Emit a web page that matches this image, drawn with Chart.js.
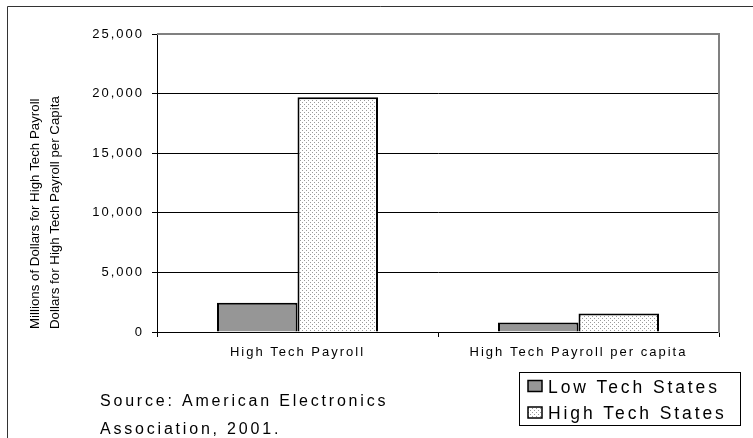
<!DOCTYPE html>
<html>
<head>
<meta charset="utf-8">
<script src="https://cdn.jsdelivr.net/npm/chart.js@4/dist/chart.umd.min.js"></script>
<style>
  html, body { margin: 0; padding: 0; background: #fff; }
  #wrap { width: 753px; height: 438px; }
</style>
</head>
<body>
<div id="wrap"><canvas id="c" width="753" height="438"></canvas></div>
<script>
// Categories and series values (millions of dollars / dollars per capita)
const categories = ['High Tech Payroll', 'High Tech Payroll per capita'];
const lowTechStates = [2450, 800];
const highTechStates = [19700, 1550];
const seriesNames = ['Low Tech States', 'High Tech States'];
const yTicks = [0, 5000, 10000, 15000, 20000, 25000];
const yTitleLines = ['Millions of Dollars for High Tech Payroll', 'Dollars for High Tech Payroll per Capita'];
const sourceLines = ['Source: American Electronics', 'Association, 2001.'];

const FONT = "'Liberation Sans', Arial, sans-serif";
const canvas = document.getElementById('c');
const ctx = canvas.getContext('2d');

// Fine stippled fill for the high tech bars
function dotPattern() {
  const p = document.createElement('canvas');
  p.width = 4; p.height = 4;
  const g = p.getContext('2d');
  g.fillStyle = '#ffffff';
  g.fillRect(0, 0, 4, 4);
  g.fillStyle = '#9a9a9a';
  g.fillRect(0, 0, 1, 1);
  g.fillRect(2, 2, 1, 1);
  return ctx.createPattern(p, 'repeat');
}
const stipple = dotPattern();
const lowFill = '#969696';

// Wide letter spacing for the axis labels
const spacing = {
  id: 'spacing',
  beforeDraw(chart) { chart.ctx.letterSpacing = '2px'; },
  afterDraw(chart) { chart.ctx.letterSpacing = '0px'; }
};

// Frame, plot border, axis title, source note and boxed legend
const decorations = {
  id: 'decorations',
  afterDraw(chart) {
    const c = chart.ctx;
    const a = chart.chartArea;
    c.save();

    // outer frame
    c.strokeStyle = '#333';
    c.lineWidth = 1;
    c.beginPath();
    c.moveTo(7.5, 438); c.lineTo(7.5, 6.5); c.lineTo(753, 6.5);
    c.stroke();

    // plot area border (top and right)
    c.strokeStyle = '#808080';
    c.lineWidth = 2;
    c.beginPath();
    c.moveTo(a.left, a.top); c.lineTo(a.right, a.top); c.lineTo(a.right, a.bottom + 1);
    c.stroke();

    // rotated two-line axis title
    c.fillStyle = '#000';
    c.font = '13.3px ' + FONT;
    c.letterSpacing = '0px';
    c.textAlign = 'left';
    c.textBaseline = 'middle';
    yTitleLines.forEach((t, i) => {
      c.save();
      c.translate(35 + i * 20, 329);
      c.rotate(-Math.PI / 2);
      c.fillText(t, 0, 0);
      c.restore();
    });

    // source note
    c.font = '16px ' + FONT;
    c.letterSpacing = '2.8px';
    c.textBaseline = 'alphabetic';
    c.fillText(sourceLines[0], 100, 406);
    c.fillText(sourceLines[1], 100, 434);

    // legend
    c.strokeStyle = '#000';
    c.lineWidth = 1;
    c.strokeRect(519.5, 372.5, 221, 53);
    const fills = [lowFill, stipple];
    const baselines = [392.5, 419];
    seriesNames.forEach((name, i) => {
      const y = baselines[i];
      c.fillStyle = fills[i];
      c.fillRect(528, y - 12, 14, 11);
      c.strokeStyle = '#000';
      c.lineWidth = 1.5;
      c.strokeRect(528, y - 12, 14, 11);
      c.fillStyle = '#000';
      c.font = '17.5px ' + FONT;
      c.letterSpacing = '2.9px';
      c.fillText(name, 548, y);
    });

    c.restore();
  }
};

new Chart(canvas, {
  type: 'bar',
  data: {
    labels: categories,
    datasets: [
      { label: seriesNames[0], data: lowTechStates, backgroundColor: lowFill, borderColor: '#000', borderWidth: 2 },
      { label: seriesNames[1], data: highTechStates, backgroundColor: stipple, borderColor: '#000', borderWidth: 2 }
    ]
  },
  options: {
    responsive: false,
    animation: false,
    events: [],
    layout: { padding: { top: 34, right: 34, left: 0, bottom: 0 } },
    datasets: { bar: { categoryPercentage: 0.573, barPercentage: 1 } },
    plugins: { legend: { display: false }, tooltip: { enabled: false } },
    scales: {
      x: {
        grid: { display: true, drawOnChartArea: false, offset: true, color: '#000', tickColor: '#000', tickLength: 5 },
        border: { color: '#000', width: 1 },
        ticks: { color: '#000', font: { family: FONT, size: 13 }, padding: 8, maxRotation: 0 },
        afterFit(s) { s.height = 106; }
      },
      y: {
        min: 0,
        max: 25000,
        afterBuildTicks(s) { s.ticks = yTicks.map(v => ({ value: v })); },
        grid: { color: '#000', tickColor: '#000', tickLength: 5 },
        border: { color: '#000', width: 1 },
        ticks: {
          color: '#000',
          font: { family: FONT, size: 13 },
          padding: 8,
          callback: v => v.toLocaleString('en-US')
        },
        afterFit(s) { s.width = 157; }
      }
    }
  },
  plugins: [spacing, decorations]
});
</script>
</body>
</html>
